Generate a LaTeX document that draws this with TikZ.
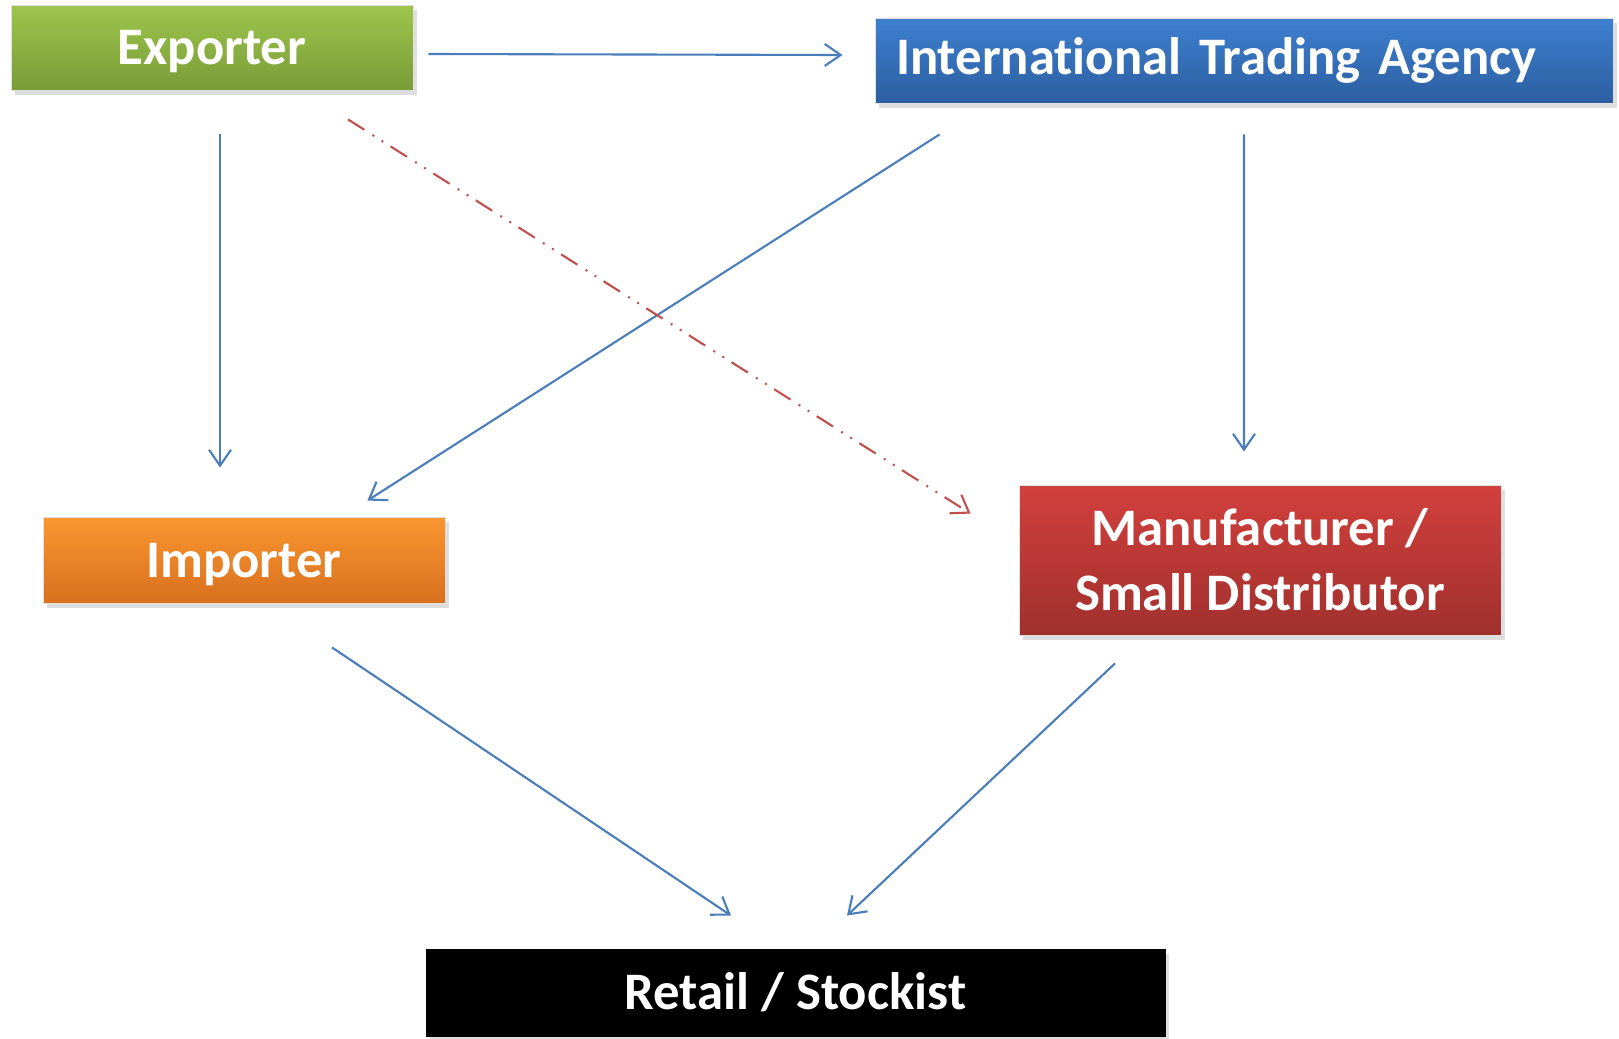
\documentclass[tikz,border=0pt]{standalone}
\usepackage{fontspec}
\setmainfont{Carlito}[Ligatures=NoCommon]
\usepackage{xcolor}
\usetikzlibrary{arrows.meta,shadows}

\definecolor{expTop}{RGB}{158,197,76}
\definecolor{expBot}{RGB}{121,156,56}
\definecolor{itaTop}{RGB}{62,128,208}
\definecolor{itaBot}{RGB}{44,94,160}
\definecolor{impTop}{RGB}{250,150,48}
\definecolor{impBot}{RGB}{216,112,30}
\definecolor{manTop}{RGB}{210,64,61}
\definecolor{manBot}{RGB}{160,48,45}
\definecolor{lineBlue}{RGB}{74,126,187}
\definecolor{lineRed}{RGB}{192,80,77}

\begin{document}
\begin{tikzpicture}[
  box/.style 2 args={top color=#1,bottom color=#2,draw=black!12,line width=0.5pt,
              text=white,font=\fontsize{30}{37}\selectfont\bfseries,align=center,inner sep=0pt,
              drop shadow={shadow xshift=0.07cm,shadow yshift=-0.1cm,fill=black!25}},
  arr/.style={-{Straight Barb[length=0.32cm,width=0.44cm]},line width=1.2pt,lineBlue},
  dasharr/.style={arr,lineRed,dash pattern=on 11pt off 5.5pt on 1.1pt off 5pt on 1.1pt off 5pt}]
\useasboundingbox[fill=white] (0,0) rectangle (32.38,-20.78);
\node[box={expTop}{expBot},minimum width=8.04cm,minimum height=1.70cm,text depth=0pt] (exp) at (4.24,-0.95) {Exporter};
\node[box={itaTop}{itaBot},minimum width=14.76cm,minimum height=1.70cm,text width=13.92cm,align=left]
  (ita) at (24.88,-1.21) {International Trading Agency};
\node[box={impTop}{impBot},minimum width=8.04cm,minimum height=1.72cm,text depth=0pt] (imp) at (4.88,-11.20) {Importer};
\node[box={manTop}{manBot},minimum width=9.64cm,minimum height=3.00cm] (man) at (25.20,-11.20)
  {Manufacturer /\\Small Distributor};
\node[box={black}{black},draw=black,minimum width=14.78cm,minimum height=1.74cm] (ret) at (15.91,-19.85)
  {Retail / Stockist};
% connectors
\draw[arr] ([xshift=0.30cm,yshift=-0.13cm]exp.east) -- ([xshift=-0.64cm,yshift=0.11cm]ita.west);
\draw[arr] ([xshift=0.16cm,yshift=-0.88cm]exp.south) -- ([xshift=-0.48cm,yshift=0.98cm]imp.north);
\draw[arr] ([xshift=1.30cm,yshift=-0.62cm]ita.south west) -- ([xshift=-1.56cm,yshift=0.32cm]imp.north east);
\draw[arr] ([yshift=-0.62cm]ita.south) -- ([xshift=-0.32cm,yshift=0.66cm]man.north);
\draw[dasharr] ([xshift=2.72cm,yshift=-0.58cm]exp.south) -- ([xshift=-0.96cm,yshift=-0.58cm]man.north west);
\draw[arr] ([xshift=1.76cm,yshift=-0.88cm]imp.south) -- ([xshift=-1.29cm,yshift=0.66cm]ret.north);
\draw[arr] ([xshift=-2.90cm,yshift=-0.56cm]man.south) -- ([xshift=1.03cm,yshift=0.66cm]ret.north);
\end{tikzpicture}
\end{document}
